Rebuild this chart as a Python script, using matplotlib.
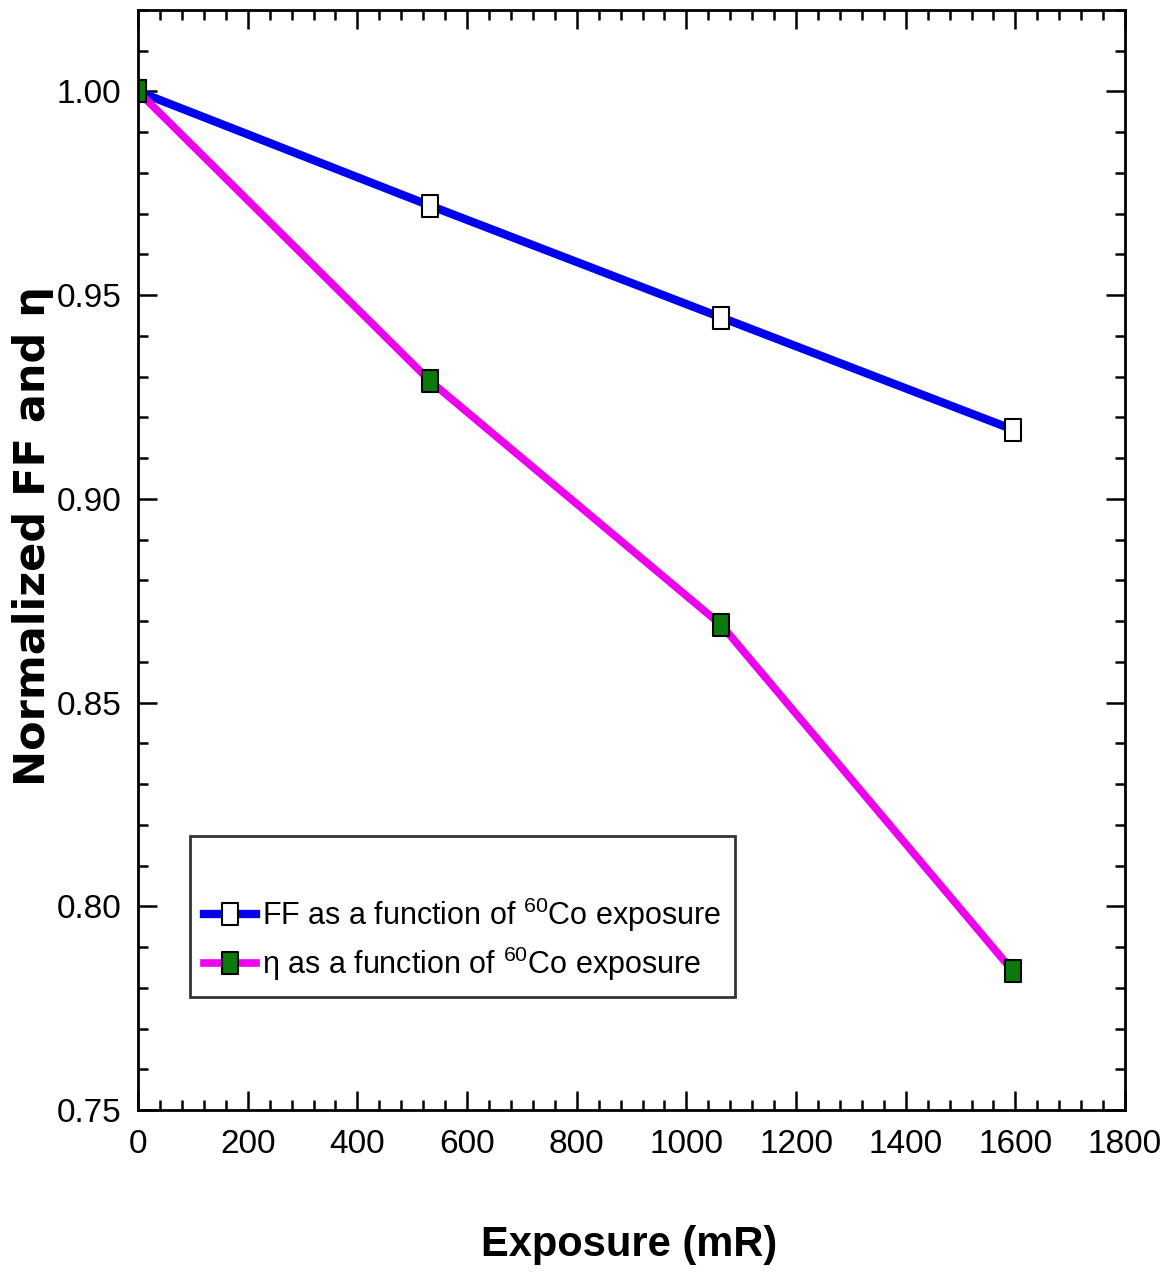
import matplotlib
matplotlib.use("Agg")
import matplotlib.pyplot as plt
from matplotlib.ticker import MultipleLocator, FormatStrFormatter
from matplotlib.path import Path

# exposure in mR and normalized values
exposure = [0, 532, 1064, 1596]
ff_norm = [1.000, 0.972, 0.9445, 0.917]
eta_norm = [1.000, 0.929, 0.869, 0.784]

plt.rcParams['font.family'] = ['Liberation Sans', 'DejaVu Sans']
plt.rcParams['mathtext.fontset'] = 'custom'
plt.rcParams['mathtext.rm'] = 'Liberation Sans'

# slightly tall rectangle marker
box = Path([(-0.7, -1), (0.7, -1), (0.7, 1), (-0.7, 1), (-0.7, -1)],
           [Path.MOVETO, Path.LINETO, Path.LINETO, Path.LINETO, Path.CLOSEPOLY])

fig = plt.figure(figsize=(11.62, 12.8), dpi=100)
ax = fig.add_axes([0.1188, 0.1328, 0.8494, 0.8594])

ax.plot(exposure, ff_norm, color='#0000ee', lw=6, marker=box, ms=16,
        mfc='white', mec='black', mew=1.5,
        label=r'FF as a function of $^{60}$Co exposure')
ax.plot(exposure, eta_norm, color='#ee00ee', lw=5.5, marker=box, ms=16,
        mfc='#0a7a0a', mec='black', mew=1.5,
        label=r'η as a function of $^{60}$Co exposure')

ax.set_xlim(0, 1800)
ax.set_ylim(0.75, 1.02)
ax.xaxis.set_major_locator(MultipleLocator(200))
ax.xaxis.set_minor_locator(MultipleLocator(40))
ax.yaxis.set_major_locator(MultipleLocator(0.05))
ax.yaxis.set_minor_locator(MultipleLocator(0.01))
ax.yaxis.set_major_formatter(FormatStrFormatter('%.2f'))

ax.tick_params(which='both', direction='in', top=True, right=True,
               labelsize=24, width=1.8)
ax.tick_params(axis='x', pad=14)
ax.tick_params(axis='y', pad=12)
ax.tick_params(which='major', length=14)
ax.tick_params(which='minor', length=7)
for s in ax.spines.values():
    s.set_linewidth(2)

ax.set_xlabel('Exposure (mR)', fontsize=30, fontweight='bold')
ax.xaxis.set_label_coords(0.498, -0.123)
ax.xaxis.label.set_va('center')
ax.set_ylabel('Normalized FF and η', fontsize=31, fontweight='bold',
              family=['DejaVu Sans'])
ax.yaxis.set_label_coords(-0.106, 0.522)
ax.yaxis.label.set_va('center')

leg = ax.legend(loc='lower left', bbox_to_anchor=(0.053, 0.103), fontsize=22,
                title=' ', title_fontsize=26, frameon=True, fancybox=False,
                edgecolor='black', handlelength=1.7, handletextpad=0.2,
                borderpad=0.45, labelspacing=0.35, borderaxespad=0)
leg.get_frame().set_linewidth(2)

fig.savefig('out.png', dpi=100)
